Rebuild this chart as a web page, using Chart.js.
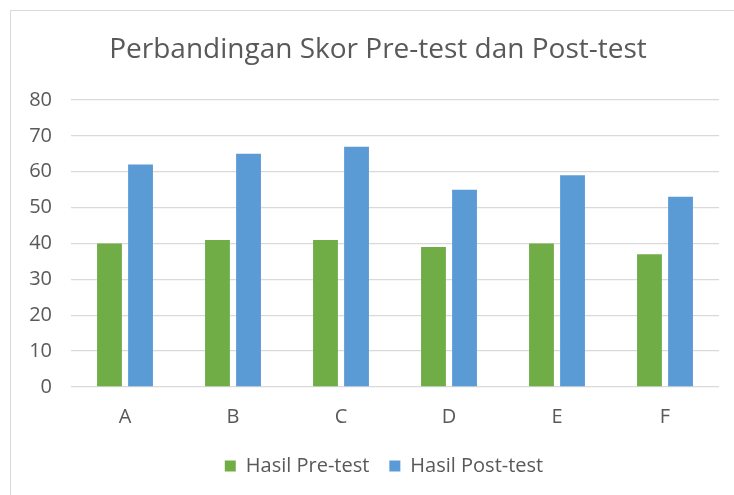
<!DOCTYPE html>
<html>
<head>
<meta charset="utf-8">
<script src="https://cdn.jsdelivr.net/npm/chart.js@4.4.1/dist/chart.umd.min.js"></script>
<style>
    html, body { margin: 0; padding: 0; background: #fff; overflow: hidden; width: 734px; height: 495px; }
    #frame { position: absolute; left: 10px; top: 10px; width: 740px; height: 490px; border: 1px solid #d9d9d9; }
    #chart { display: block; }
</style>
</head>
<body>
<div id="frame"><canvas id="chart" width="740" height="490"></canvas></div>
<script>
// Chart data
const categories = ['A', 'B', 'C', 'D', 'E', 'F'];
const preTest = [40, 41, 41, 39, 40, 37];
const postTest = [62, 65, 67, 55, 59, 53];
const yMin = 0;
const yMax = 80;
const yStep = 10;

const textColor = '#595959';
const fontFamily = '"Open Sans", "Liberation Sans", sans-serif';

// Excel centres title and legend on the full (cropped) chart box, nudge them right
const centreShift = {
    id: 'centreShift',
    afterLayout(chart) {
        chart.titleBlock.left += 13;
        chart.titleBlock.right += 13;
        chart.legend.left += 19;
        chart.legend.right += 19;
    }
};

document.addEventListener('DOMContentLoaded', function() {
    const ctx = document.getElementById('chart');

    new Chart(ctx, {
        type: 'bar',
        data: {
            labels: categories,
            datasets: [{
                label: 'Hasil Pre-test',
                data: preTest,
                backgroundColor: '#70ad47'
            }, {
                label: 'Hasil Post-test',
                data: postTest,
                backgroundColor: '#5b9bd5'
            }]
        },
        options: {
            responsive: false,
            animation: false,
            categoryPercentage: 0.575,
            barPercentage: 0.8,
            layout: {
                padding: { left: 0, right: 32, top: 0, bottom: 15 }
            },
            plugins: {
                title: {
                    display: true,
                    text: 'Perbandingan Skor Pre-test dan Post-test',
                    color: textColor,
                    font: { family: fontFamily, size: 28, weight: 'normal' },
                    padding: { top: 22, bottom: 33.4 }
                },
                legend: {
                    position: 'bottom',
                    labels: {
                        color: textColor,
                        font: { family: fontFamily, size: 20 },
                        boxWidth: 11,
                        boxHeight: 11,
                        padding: 20
                    }
                },
                tooltip: { enabled: false }
            },
            scales: {
                x: {
                    grid: { display: false, drawTicks: false },
                    border: { display: false },
                    ticks: {
                        color: textColor,
                        font: { family: fontFamily, size: 20 },
                        padding: 18
                    },
                    afterFit: function(scale) { scale.height = 49; }
                },
                y: {
                    min: yMin,
                    max: yMax,
                    grid: { color: '#d9d9d9', lineWidth: 1.3, drawTicks: false },
                    border: { display: false },
                    ticks: {
                        stepSize: yStep,
                        color: textColor,
                        font: { family: fontFamily, size: 20 },
                        padding: 19
                    },
                    afterFit: function(scale) { scale.width = 60; }
                }
            }
        },
        plugins: [centreShift]
    });
});
</script>
</body>
</html>
